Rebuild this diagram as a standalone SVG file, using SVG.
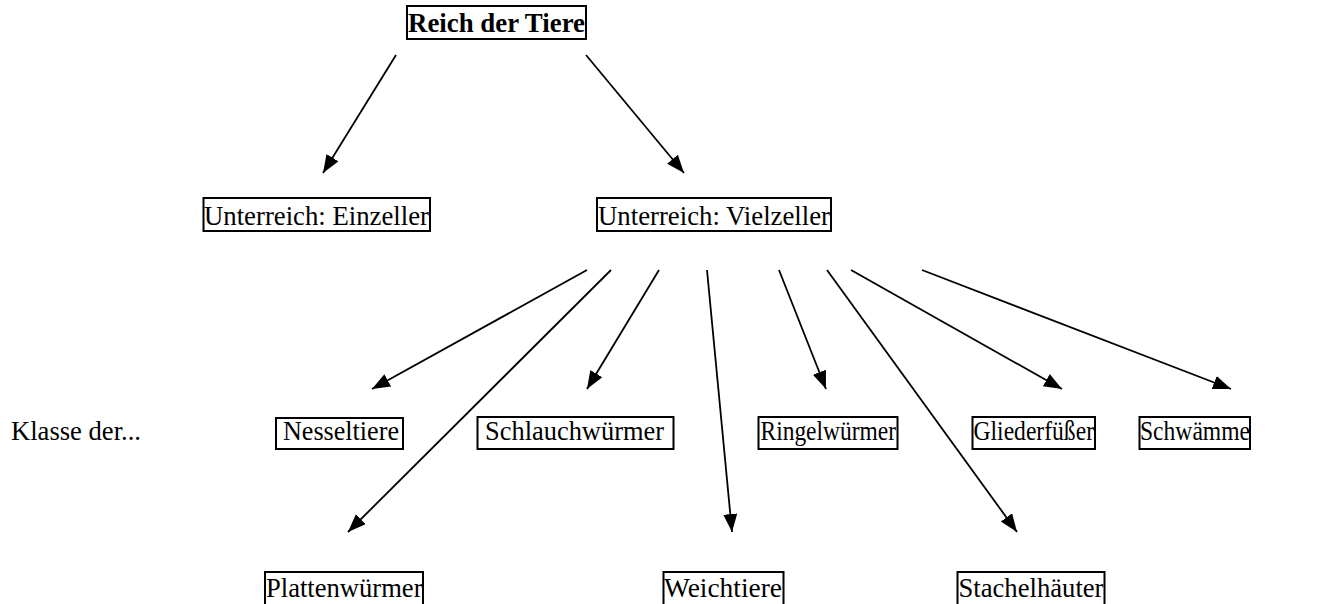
<svg xmlns="http://www.w3.org/2000/svg" width="1323" height="604" viewBox="0 0 1323 604">
<style>
text{font-family:"Liberation Serif","Times New Roman",serif;font-size:27px;fill:#000}
.b{font-weight:bold}
.n rect{fill:#fff;stroke:#000;stroke-width:2}
.c line{stroke:#000;stroke-width:1.8;marker-end:url(#ah)}
</style>
<defs>
<marker id="ah" markerUnits="userSpaceOnUse" markerWidth="20" markerHeight="16" refX="18" refY="7" orient="auto">
<path d="M0,0 L18,7 L0,14 Z" fill="#000"/>
</marker>
</defs>
<rect width="1323" height="604" fill="#fff"/>
<g class="c" id="connectors">
<line x1="396" y1="55" x2="323" y2="173"/>
<line x1="586" y1="55" x2="684" y2="173"/>
<line x1="587" y1="270" x2="372" y2="389"/>
<line x1="611" y1="270" x2="348" y2="532"/>
<line x1="659" y1="270" x2="587" y2="389"/>
<line x1="707" y1="270" x2="732" y2="532"/>
<line x1="779" y1="270" x2="826" y2="389"/>
<line x1="827" y1="270" x2="1017" y2="532"/>
<line x1="851" y1="270" x2="1062" y2="389"/>
<line x1="922" y1="270" x2="1231" y2="389"/>
</g>
<g class="n" id="n-reich"><rect x="407" y="6" width="179" height="33"/><text class="b" x="408" y="32" textLength="177" lengthAdjust="spacingAndGlyphs">Reich der Tiere</text></g>
<g class="n" id="n-einzeller"><rect x="203.5" y="198" width="226.5" height="33"/><text x="204" y="225" textLength="225" lengthAdjust="spacingAndGlyphs">Unterreich: Einzeller</text></g>
<g class="n" id="n-vielzeller"><rect x="597" y="198" width="234" height="33"/><text x="598" y="225" textLength="232" lengthAdjust="spacingAndGlyphs">Unterreich: Vielzeller</text></g>
<g class="n" id="n-klasse"><text x="11" y="440" textLength="130" lengthAdjust="spacingAndGlyphs">Klasse der...</text></g>
<g class="n" id="n-nessel"><rect x="276" y="418" width="127" height="31"/><text x="283" y="440" textLength="116" lengthAdjust="spacingAndGlyphs">Nesseltiere</text></g>
<g class="n" id="n-schlauch"><rect x="477.5" y="417" width="196" height="32"/><text x="485" y="440" textLength="179" lengthAdjust="spacingAndGlyphs">Schlauchwürmer</text></g>
<g class="n" id="n-ringel"><rect x="758.5" y="417" width="139" height="32"/><text x="760.5" y="440" textLength="135.5" lengthAdjust="spacingAndGlyphs">Ringelwürmer</text></g>
<g class="n" id="n-glieder"><rect x="972.5" y="417" width="122.5" height="32"/><text x="973.5" y="440" textLength="120.5" lengthAdjust="spacingAndGlyphs">Gliederfüßer</text></g>
<g class="n" id="n-schwamm"><rect x="1139.5" y="417" width="110.5" height="32"/><text x="1140" y="440" textLength="110" lengthAdjust="spacingAndGlyphs">Schwämme</text></g>
<g class="n" id="n-platten"><rect x="265" y="572" width="158" height="40"/><text x="266" y="597" textLength="156.5" lengthAdjust="spacingAndGlyphs">Plattenwürmer</text></g>
<g class="n" id="n-weich"><rect x="663.5" y="572" width="120" height="40"/><text x="664" y="597" textLength="118" lengthAdjust="spacingAndGlyphs">Weichtiere</text></g>
<g class="n" id="n-stachel"><rect x="957.5" y="572" width="147" height="40"/><text x="958.5" y="597" textLength="145" lengthAdjust="spacingAndGlyphs">Stachelhäuter</text></g>
</svg>
